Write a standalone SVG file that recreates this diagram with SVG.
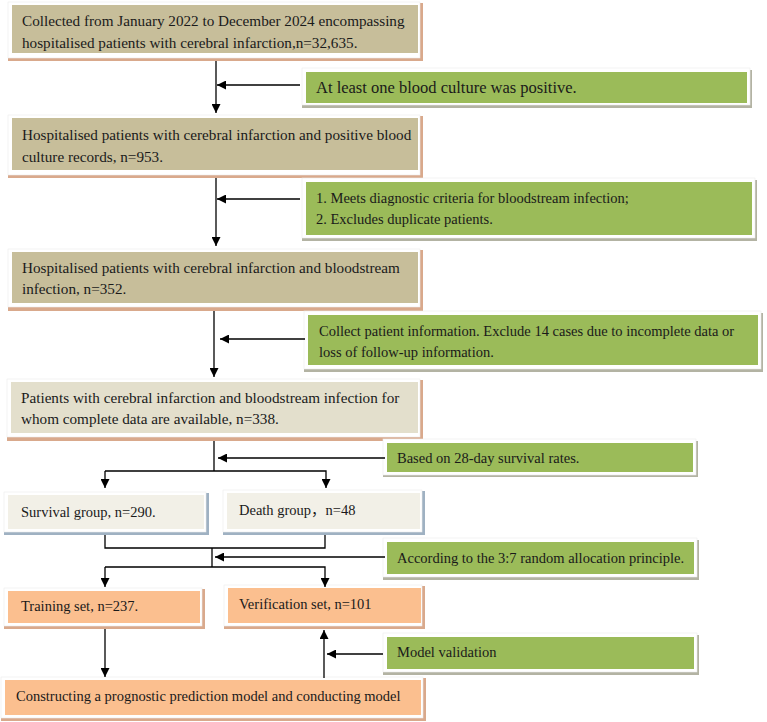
<svg xmlns="http://www.w3.org/2000/svg" width="767" height="722" viewBox="0 0 767 722">
<style>
text{font-family:"Liberation Serif","Times New Roman","Noto Sans CJK SC",serif;fill:#1a1a1a;}
.t{font-size:15.2px;}
.s{font-size:14.5px;}
.w{fill:#ffffff;stroke:#ececec;stroke-width:0.6;}
.tan{fill:#c7be9a;}
.beige{fill:#e3dfcc;}
.light{fill:#f2f0e7;}
.orange{fill:#fbbf8f;}
.green{fill:#9bbb59;}
.shO{fill:#d9a98c;}
.shB{fill:#9fb1c2;}
.shG{fill:#b3b3a3;}
.c{fill:none;stroke:#000;stroke-width:1.3;}
</style>
<defs>
<marker id="ah" viewBox="0 0 10 10" refX="10" refY="5" markerWidth="9" markerHeight="9" markerUnits="userSpaceOnUse" orient="auto">
<path d="M0,0 L10,5 L0,10 z" fill="#000"/>
</marker>
</defs>
<rect width="767" height="722" fill="#fff"/>

<g id="n1">
<rect class="shO" x="8" y="3" width="415" height="58"/>
<rect class="w" x="8" y="2" width="412" height="56"/>
<rect class="tan" x="12" y="5" width="406" height="48"/>
<text class="t" x="22" y="26">Collected from January 2022 to December 2024 encompassing</text>
<text class="t" x="22" y="48">hospitalised patients with cerebral infarction,n=32,635.</text>
</g>

<g id="g1">
<rect class="shG" x="302" y="70" width="450" height="38"/>
<rect class="w" x="302" y="68" width="448" height="37"/>
<rect class="green" x="306" y="72" width="441" height="31"/>
<text x="316" y="93" style="font-size:16.5px">At least one blood culture was positive.</text>
</g>

<g id="n2">
<rect class="shO" x="8" y="116" width="415" height="62"/>
<rect class="w" x="8" y="115" width="412" height="60"/>
<rect class="tan" x="12" y="118" width="406" height="52"/>
<text class="t" x="22" y="140">Hospitalised patients with cerebral infarction and positive blood</text>
<text class="t" x="22" y="162">culture records, n=953.</text>
</g>

<g id="g2">
<rect class="shG" x="302" y="180" width="455" height="61"/>
<rect class="w" x="302" y="178" width="453" height="60"/>
<rect class="green" x="306" y="182" width="446" height="53"/>
<text class="s" x="316" y="203">1. Meets diagnostic criteria for bloodstream infection;</text>
<text class="s" x="316" y="224">2. Excludes duplicate patients.</text>
</g>

<g id="n3">
<rect class="shO" x="8" y="250" width="415" height="61"/>
<rect class="w" x="8" y="249" width="412" height="58"/>
<rect class="tan" x="12" y="252" width="406" height="51"/>
<text class="t" x="22" y="273">Hospitalised patients with cerebral infarction and bloodstream</text>
<text class="t" x="22" y="294">infection, n=352.</text>
</g>

<g id="g3">
<rect class="shG" x="304" y="313" width="459" height="59"/>
<rect class="w" x="304" y="311" width="457" height="58"/>
<rect class="green" x="308" y="315" width="450" height="50"/>
<text class="s" x="319" y="336">Collect patient information. Exclude 14 cases due to incomplete data or</text>
<text class="s" x="319" y="357">loss of follow-up information.</text>
</g>

<g id="n4">
<rect class="shO" x="7" y="380" width="416" height="61"/>
<rect class="w" x="7" y="379" width="413" height="58"/>
<rect class="beige" x="11" y="382" width="407" height="51"/>
<text class="t" x="21" y="403">Patients with cerebral infarction and bloodstream infection for</text>
<text class="t" x="21" y="424">whom complete data are available, n=338.</text>
</g>

<g id="g4">
<rect class="shG" x="383" y="441" width="315" height="36"/>
<rect class="w" x="383" y="439" width="313" height="36"/>
<rect class="green" x="387" y="443" width="306" height="29"/>
<text class="s" x="397" y="463">Based on 28-day survival rates.</text>
</g>

<g id="n5">
<rect class="shB" x="4" y="493" width="205" height="42"/>
<rect class="w" x="4" y="492" width="202" height="40"/>
<rect class="light" x="8" y="495" width="196" height="34"/>
<text class="s" x="21" y="517">Survival group, n=290.</text>
</g>

<g id="n6">
<rect class="shB" x="223" y="491" width="202" height="44"/>
<rect class="w" x="223" y="490" width="199" height="42"/>
<rect class="light" x="227" y="493" width="193" height="36"/>
<text class="s" x="239" y="515">Death group，n=48</text>
</g>

<g id="g5">
<rect class="shG" x="383" y="540" width="316" height="40"/>
<rect class="w" x="383" y="538" width="314" height="39"/>
<rect class="green" x="387" y="542" width="307" height="32"/>
<text class="s" x="397" y="563">According to the 3:7 random allocation principle.</text>
</g>

<g id="n7">
<rect class="shO" x="4" y="589" width="201" height="40"/>
<rect class="w" x="4" y="588" width="198" height="38"/>
<rect class="orange" x="8" y="591" width="192" height="32"/>
<text class="s" x="21" y="611">Training set, n=237.</text>
</g>

<g id="n8">
<rect class="shO" x="224" y="586" width="201" height="43"/>
<rect class="w" x="224" y="585" width="198" height="41"/>
<rect class="orange" x="228" y="588" width="193" height="35"/>
<text class="s" x="239" y="609">Verification set, n=101</text>
</g>

<g id="g6">
<rect class="shG" x="383" y="635" width="316" height="40"/>
<rect class="w" x="383" y="633" width="314" height="39"/>
<rect class="green" x="387" y="637" width="307" height="32"/>
<text class="s" x="397" y="657">Model validation</text>
</g>

<g id="n9">
<rect class="shO" x="1" y="678" width="425" height="43"/>
<rect class="w" x="1" y="677" width="422" height="41"/>
<rect class="orange" x="5" y="680" width="416" height="35"/>
<text class="s" x="16" y="701">Constructing a prognostic prediction model and conducting model</text>
</g>

<g id="connectors">
<path class="c" d="M216,61 V113" marker-end="url(#ah)"/>
<path class="c" d="M300,85 H217" marker-end="url(#ah)"/>
<path class="c" d="M216,178 V246" marker-end="url(#ah)"/>
<path class="c" d="M300,199 H217" marker-end="url(#ah)"/>
<path class="c" d="M214,311 V377" marker-end="url(#ah)"/>
<path class="c" d="M305,339 H220" marker-end="url(#ah)"/>
<path class="c" d="M214,441 V471"/>
<path class="c" d="M385,458 H218" marker-end="url(#ah)"/>
<path class="c" d="M105,471 V488" marker-end="url(#ah)"/>
<path class="c" d="M105,471 H326 V488" marker-end="url(#ah)"/>
<path class="c" d="M105,535 V548 H325 V535"/>
<path class="c" d="M212,548 V567"/>
<path class="c" d="M105,567 V587" marker-end="url(#ah)"/>
<path class="c" d="M105,567 H325 V587" marker-end="url(#ah)"/>
<path class="c" d="M385,557 H215" marker-end="url(#ah)"/>
<path class="c" d="M105,629 V677" marker-end="url(#ah)"/>
<path class="c" d="M324,678 V630" marker-end="url(#ah)"/>
<path class="c" d="M383,654 H327" marker-end="url(#ah)"/>
</g>
</svg>
